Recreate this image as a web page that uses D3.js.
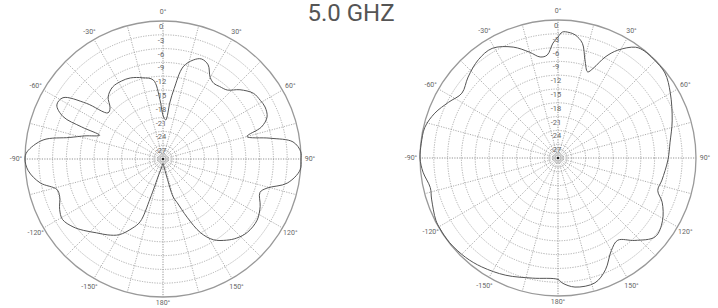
<!doctype html>
<html>
<head>
<style>
  body { margin: 0; background: #fff; }
  svg text { font-family: Roboto, "Liberation Sans", sans-serif; }
</style>
</head>
<body>
    <div class="container"></div>

    <script src="https://d3js.org/d3.v7.min.js"></script>

    <script>
        // pattern 1 (left) : angle in degrees, level in dB
        const leftAngles = [-180,-170,-165,-162,-160,-156,-150,-144,-138,-132,-127,-121,-116,-110,-106,-101,-95,-90,-87,-81,-77,-73.5,-69.5,-68.5,-67,-63,-58.5,-54,-50,-46,-41.5,-35,-28,-22,-14,-7,-3,0,4,7,9,12.3,17,21,25.6,30,34,38,43,48,54,59,63,68,72,75,79,82.5,87,90,94.6,101,105.6,109,116,123,131,137,142,148,153,157.5,162,165,168,174];
        const leftDb     = [-29,-28,-26.5,-21,-15.5,-13.5,-11,-9.6,-8.4,-6.8,-5.5,-4.5,-5.0,-6.1,-6.0,-2.8,-0.6,0,-0.4,-3.6,-9.2,-12.3,-15.3,-11,-6.4,-4.1,-4.5,-9.4,-14.4,-14,-12.0,-10.9,-10.8,-11.0,-11.8,-12.7,-17,-20.5,-21.5,-17.5,-14.5,-9.5,-7.5,-6.7,-7.3,-9.5,-10.2,-10,-9.5,-7.5,-5.7,-5.3,-5.1,-5.6,-7.5,-11.1,-6.3,-1.5,0,0,-0.1,-2.5,-6.5,-7.7,-6.5,-5.6,-5.7,-6.5,-7.6,-9.3,-12.0,-16.3,-20.0,-21.5,-26,-28.5];

        // pattern 2 (right)
        const rightAngles = [-180,-168,-156,-145,-137,-128,-121,-117,-108,-103,-96,-90,-84,-77,-70,-63,-56,-48,-39,-31,-22,-15,-10,-6,-2.5,0,2,5,8,12,15.4,19,21.5,25,29,35,39,44,51.5,60,72,82,91,102,108,113,121,129,137,144,150,157,163.5,172.5,178];
        const rightDb     = [-3.6,-3.3,-2.1,-1.1,-0.5,-0.1,-0.1,-0.2,-1.1,-1.5,-0.5,0,-0.1,-0.3,-1.5,-3.3,-4.8,-3.7,-2.5,-2.2,-4.0,-6.2,-7.7,-7.5,-5,-3.7,-2.6,-2.6,-3.0,-4.5,-7.9,-10.2,-9.0,-5.8,-3.2,-0.6,-0.1,-0.1,-0.3,-1.8,-3.9,-5.4,-6.1,-6.9,-7.2,-5.4,-3.5,-2.8,-5.5,-7.9,-6.8,-3.6,-1.7,-1.7,-2.8];

        const ringDb = [-3,-6,-9,-12,-15,-18,-21,-24,-27];
        const ringLabels = ['0','-3','-6','-9','-12','-15','-18','-21','-24','-27'];
        const innerDb = [-28,-29];
        const angleTicks = [0,30,60,90,120,150,180,-150,-120,-90,-60,-30];
        const spokeAngles = d3.range(0, 360, 15);
        const title = '5.0 GHZ';

        const W = 718, H = 308, R = 138;
        const svg = d3.select('.container').append('svg').attr('width', W).attr('height', H);

        svg.append('text')
            .attr('x', 351).attr('y', 21)
            .attr('text-anchor', 'middle')
            .attr('font-size', 24)
            .attr('fill', '#555')
            .text(title);

        const r = d3.scaleLinear().domain([-30, 0]).range([0, R]).clamp(true);
        const rad = d3.scaleLinear().domain([0, 180]).range([0, Math.PI]);

        const drawPolar = (cx, cy, angles, db) => {
            const g = svg.append('g').attr('transform', `translate(${cx},${cy})`);

            // inner small rings
            g.selectAll('.inner').data(innerDb).enter().append('circle')
                .attr('r', d => r(d))
                .attr('fill', 'none')
                .attr('stroke', '#bbb')
                .attr('stroke-width', 0.8);

            // spokes
            g.selectAll('.spoke').data(spokeAngles).enter().append('line')
                .attr('x1', 0).attr('y1', 0)
                .attr('x2', d => R * Math.sin(rad(d)))
                .attr('y2', d => -R * Math.cos(rad(d)))
                .attr('stroke', d => d % 90 === 0 ? '#777' : '#999')
                .attr('stroke-width', 0.8)
                .attr('stroke-dasharray', '1.2,1.3');

            // dB rings
            g.selectAll('.ring').data(ringDb).enter().append('circle')
                .attr('r', d => r(d))
                .attr('fill', 'none')
                .attr('stroke', '#999')
                .attr('stroke-width', 0.8)
                .attr('stroke-dasharray', '1.2,1.3');

            // outer circle
            g.append('circle').attr('r', R)
                .attr('fill', 'none')
                .attr('stroke', '#999')
                .attr('stroke-width', 1.3);

            // ring labels
            g.selectAll('.rl').data(ringLabels).enter().append('text')
                .attr('x', -2)
                .attr('y', (d, i) => -r(-3 * i) + 8)
                .attr('text-anchor', 'middle')
                .attr('font-size', 7.5)
                .attr('fill', '#666')
                .text(d => d);

            // angle labels
            g.selectAll('.al').data(angleTicks).enter().append('text')
                .attr('x', d => (R + 9) * Math.sin(rad(d)))
                .attr('y', d => -(R + (Math.abs(d) === 180 ? 6 : 9)) * Math.cos(rad(d)))
                .attr('dy', '0.35em')
                .attr('text-anchor', 'middle')
                .attr('font-size', 7)
                .attr('fill', '#666')
                .text(d => d + '°');

            // pattern
            const pts = angles.map((a, i) => [rad(a), r(db[i])]);
            const line = d3.lineRadial()
                .angle(d => d[0])
                .radius(d => d[1])
                .curve(d3.curveCatmullRomClosed.alpha(0.5));
            g.append('path')
                .attr('d', line(pts))
                .attr('fill', 'none')
                .attr('stroke', '#555')
                .attr('stroke-width', 1);

            g.append('circle').attr('r', 1.3).attr('fill', '#222');
        };

        drawPolar(163, 159, leftAngles, leftDb);
        drawPolar(558, 158, rightAngles, rightDb);
    </script>
</body>
</html>
